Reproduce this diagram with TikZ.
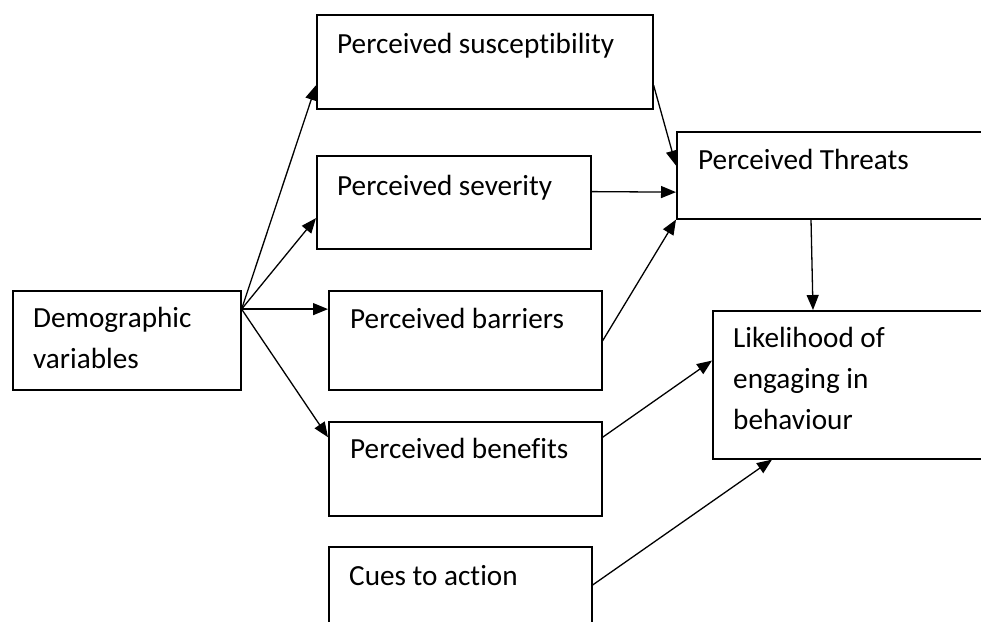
\documentclass[tikz,border=0pt]{standalone}
\usepackage{fontspec}
\setmainfont{Carlito}[Ligatures={NoCommon,NoContextual},Contextuals=NoAlternate]
\usetikzlibrary{arrows.meta,calc}
\begin{document}
\begin{tikzpicture}[x=1pt,y=-1pt,
  box/.style={draw,line width=1.6pt,inner sep=0pt,anchor=north west},
  lbl/.style={anchor=base west,inner sep=0pt,font=\fontsize{29.2}{41}\selectfont},
  arr/.style={line width=1.3pt,-{Triangle[length=15pt,width=12pt]}}]
\clip (0,0) rectangle (981,621);
% boxes
\node[box,minimum width=228pt,minimum height=99pt] (demo) at (12,290) {};
\node[box,minimum width=336pt,minimum height=94pt] (sus) at (316,14) {};
\node[box,minimum width=274pt,minimum height=93pt] (sev) at (316,155) {};
\node[box,minimum width=273pt,minimum height=99pt] (bar) at (328,290) {};
\node[box,minimum width=273pt,minimum height=94pt] (ben) at (328,421) {};
\node[box,minimum width=263pt,minimum height=90pt] (cue) at (328,546) {};
\node[box,minimum width=320pt,minimum height=87pt] (thr) at (676,131) {};
\node[box,minimum width=290pt,minimum height=148pt] (lik) at (712,310) {};
% texts
\node[lbl] (t1) at (337,53) {Perceived susceptibility};
\node[lbl] (t2) at (337,195) {Perceived severity};
\node[lbl] (t3a) at (33,327) {Demographic};
\node[lbl] (t3b) at (33,368) {variables};
\node[lbl] (t4) at (350,328) {Perceived barriers};
\node[lbl] (t5) at (350,458) {Perceived benefits};
\node[lbl] (t6) at (349,585) {Cues to action};
\node[lbl] (t7) at (698,169) {Perceived Threats};
\node[lbl] (t8a) at (733,347) {Likelihood of};
\node[lbl] (t8b) at (733,388) {engaging in};
\node[lbl] (t8c) at (733,429) {behaviour};
% connectors
\coordinate (dsrc) at ($(demo.north east)!0.19!(demo.south east)$);
\draw[arr] (dsrc) -- ($(sus.north west)!0.745!(sus.south west)$);
\draw[arr] (dsrc) -- ($(sev.north west)!0.667!(sev.south west)$);
\draw[arr] (dsrc) -- ($(bar.north west)!0.19!(bar.south west)$);
\draw[arr] (dsrc) -- ($(ben.north west)!0.17!(ben.south west)$);
\draw[arr] ($(sus.north east)!0.745!(sus.south east)$) -- ($(thr.north west)!0.39!(thr.south west)$);
\draw[arr] ($(sev.north east)!0.387!(sev.south east)$) -- ($(thr.north west)!0.69!(thr.south west)$);
\draw[arr] ($(bar.north east)!0.505!(bar.south east)$) -- (thr.south west);
\draw[arr] ($(thr.south west)+(135,0)$) -- ($(lik.north west)+(101,0)$);
\draw[arr] ($(ben.north east)!0.17!(ben.south east)$) -- ($(lik.north west)!0.338!(lik.south west)$);
\draw[arr] ($(cue.north east)+(0,39)$) -- ($(lik.south west)+(60,0)$);
\end{tikzpicture}
\end{document}
